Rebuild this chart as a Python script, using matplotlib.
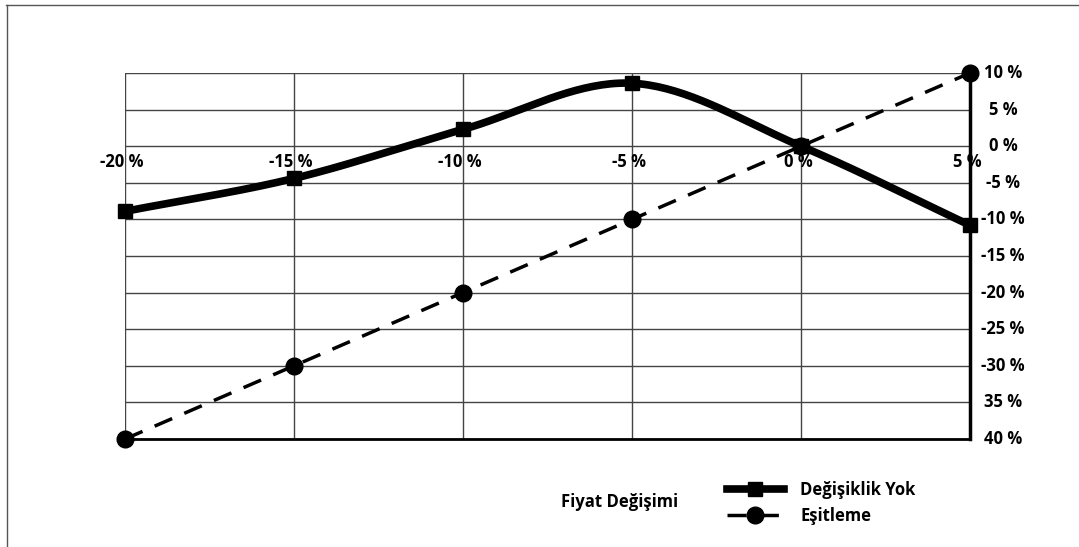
import numpy as np
import matplotlib
matplotlib.use("Agg")
import matplotlib.pyplot as plt
from matplotlib.lines import Line2D

plt.rcParams['font.family'] = ['Open Sans', 'DejaVu Sans']

x_vals = [-20, -15, -10, -5, 0, 5]
degisiklik_yok = [-8.9, -4.4, 2.3, 8.6, 0.0, -10.8]
esitleme = [-40, -30, -20, -10, 0, 10]
x_labels = ['-20 %', '-15 %', '-10 %', '-5 %', '0 %', '5 %']
y_ticks = [10, 5, 0, -5, -10, -15, -20, -25, -30, -35, -40]
y_labels = ['10 %', '5 %', '0 %', '-5 %', '-10 %', '-15 %', '-20 %', '-25 %', '-30 %', '35 %', '40 %']
series_names = ['Değişiklik Yok', 'Eşitleme']
legend_title = 'Fiyat Değişimi'

FS = 12


def catmull_rom(xs, ys, n=40):
    xs = np.asarray(xs, float); ys = np.asarray(ys, float)
    px = np.concatenate([[2*xs[0]-xs[1]], xs, [2*xs[-1]-xs[-2]]])
    py = np.concatenate([[2*ys[0]-ys[1]], ys, [2*ys[-1]-ys[-2]]])
    ox, oy = [], []
    t = np.linspace(0, 1, n)
    for i in range(1, len(px)-2):
        p0, p1, p2, p3 = [np.array([px[j], py[j]]) for j in range(i-1, i+3)]
        c1 = p1 + (p2 - p0)/6
        c2 = p2 - (p3 - p1)/6
        pts = ((1-t)**3)[:, None]*p1 + (3*(1-t)**2*t)[:, None]*c1 + (3*(1-t)*t**2)[:, None]*c2 + (t**3)[:, None]*p2
        ox.extend(pts[:, 0]); oy.extend(pts[:, 1])
    return np.array(ox), np.array(oy)


fig = plt.figure(figsize=(10.79, 5.47), dpi=100)
ax = fig.add_axes([125/1079, 1-439/547, (970-125)/1079, (439-73)/547])
ax.set_xlim(-20, 5)
ax.set_ylim(-40, 10)

# grid
for yv in y_ticks:
    ax.axhline(yv, color='#444444', lw=1.0, zorder=1)
for xv in x_vals:
    ax.axvline(xv, color='#444444', lw=1.0, zorder=1)

for s in ['top', 'left']:
    ax.spines[s].set_visible(False)
ax.spines['bottom'].set_linewidth(2.0)
ax.spines['right'].set_linewidth(2.5)
ax.spines['bottom'].set_color('black')
ax.spines['right'].set_color('black')
ax.set_xticks([]); ax.set_yticks([])

# curves
sx, sy = catmull_rom(x_vals, degisiklik_yok)
ax.plot(sx, sy, color='black', lw=5.5, solid_capstyle='butt', zorder=3, clip_on=False)
ax.plot(x_vals, degisiklik_yok, ls='none', marker='s', ms=9.5, color='black', zorder=4, clip_on=False)
ax.plot(x_vals, esitleme, color='black', lw=2.5, dashes=(5.5, 3.8), zorder=3, clip_on=False)
ax.plot(x_vals, esitleme, ls='none', marker='o', ms=12, color='black', zorder=4, clip_on=False)

# y tick labels (right side)
ytr = matplotlib.transforms.blended_transform_factory(fig.transFigure, ax.transData)
for yv, lab in zip(y_ticks, y_labels):
    ax.text(1003/1079, yv, lab, transform=ytr, ha='center', va='center',
            fontsize=FS, fontweight='bold', color='black')

# x tick labels at y=0 line
for xv, lab in zip(x_vals, x_labels):
    ax.annotate(lab, (xv, 0), xytext=(-3, -16), textcoords='offset pixels',
                ha='center', va='center', fontsize=FS, fontweight='bold', color='black')

# legend
handles = [
    Line2D([0], [0], color='black', lw=5.5, marker='s', ms=9.5),
    Line2D([0], [0], color='black', lw=2.5, dashes=(5.5, 3.8), marker='o', ms=12),
]
leg = fig.legend(handles, series_names, loc='center left', bbox_to_anchor=(712/1079, 1-503/547),
                 frameon=False, handlelength=3.4, labelspacing=0.45,
                 handletextpad=1.0, prop={'weight': 'bold', 'size': FS})
fig.text(620/1079, 1-502/547, legend_title, ha='center', va='center', fontsize=FS,
         fontweight='bold')

# outer frame (top and left only)
fig.add_artist(Line2D([6/1079, 1], [1-5/547, 1-5/547], color='#555555', lw=1.0, transform=fig.transFigure))
fig.add_artist(Line2D([7/1079, 7/1079], [0, 1-5/547], color='#555555', lw=1.0, transform=fig.transFigure))

fig.savefig('out.png', dpi=100)
